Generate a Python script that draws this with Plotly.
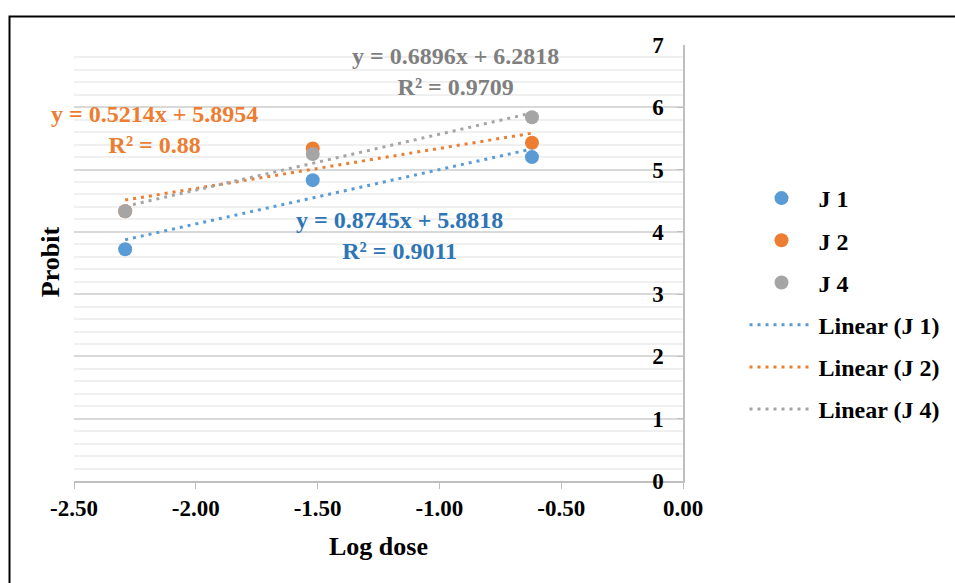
import numpy as np
import plotly.graph_objects as go

log_dose = [-2.29, -1.52, -0.62]
series_names = ["J 1", "J 2", "J 4"]
probit_j1 = [3.72, 4.83, 5.20]
probit_j2 = [4.33, 5.34, 5.43]
probit_j4 = [4.33, 5.25, 5.84]
equations = ["y = 0.8745x + 5.8818<br>R² = 0.9011",
             "y = 0.5214x + 5.8954<br>R² = 0.88",
             "y = 0.6896x + 6.2818<br>R² = 0.9709"]
x_tickvals = [-2.5, -2.0, -1.5, -1.0, -0.5, 0.0]
x_ticktext = ["-2.50", "-2.00", "-1.50", "-1.00", "-0.50", "0.00"]
y_tickvals = [0, 1, 2, 3, 4, 5, 6, 7]
y_ticktext = ["0", "1", "2", "3", "4", "5", "6", "7"]

marker_colors = ["#5B9BD5", "#ED7D31", "#A5A5A5"]
text_colors = ["#2E75B6", "#ED7D31", "#7F7F7F"]
FONT = "Liberation Serif"

fig = go.Figure()
all_y = [probit_j1, probit_j2, probit_j4]
for i, (name, ys) in enumerate(zip(series_names, all_y)):
    fig.add_trace(go.Scatter(x=log_dose, y=ys, mode="markers", name=name,
                             legendgroup="m%d" % i,
                             marker=dict(size=14, color=marker_colors[i])))
for i, (name, ys) in enumerate(zip(series_names, all_y)):
    k, b = np.polyfit(log_dose, ys, 1)
    xs = [min(log_dose), max(log_dose)]
    fig.add_trace(go.Scatter(x=xs, y=[k * v + b for v in xs], mode="lines",
                             name="Linear (%s)" % name, legendgroup="l%d" % i,
                             line=dict(color=marker_colors[i], width=3, dash="3px,5px")))

# equation labels (paper positions)
eq_pos = [(0.535, 0.564), (0.133, 0.807), (0.626, 0.940)]
for i, (ex, ey) in enumerate(eq_pos):
    fig.add_annotation(x=ex, y=ey, xref="paper", yref="paper",
                       text="<b>" + equations[i].replace("<br>", "</b><br><b>") + "</b>",
                       showarrow=False, align="center", xanchor="center", yanchor="middle",
                       font=dict(family=FONT, size=24, color=text_colors[i]))

fig.add_annotation(x=-0.0394, y=0.502, xref="paper", yref="paper", text="<b>Probit</b>",
                   textangle=-90, showarrow=False, xanchor="center", yanchor="middle",
                   font=dict(family=FONT, size=26, color="black"))

# chart frame
fig.add_shape(type="rect", xref="paper", yref="paper", x0=-0.1059, x1=1.6, y0=-0.4, y1=1.0654,
              line=dict(color="#000000", width=2), layer="below")

fig.update_layout(
    width=955, height=583,
    margin=dict(l=74, r=272, t=45, b=102, autoexpand=False),
    plot_bgcolor="white", paper_bgcolor="white",
    font=dict(family=FONT, color="black"),
    showlegend=True,
    legend=dict(x=1.101, y=0.406, xanchor="left", yanchor="middle",
                traceorder="grouped", tracegroupgap=8,
                font=dict(family=FONT, size=24, color="black", weight="bold"),
                itemwidth=64, bgcolor="rgba(0,0,0,0)"),
    xaxis=dict(range=[-2.5, 0], tickmode="array", tickvals=x_tickvals, ticktext=x_ticktext,
               showgrid=False, zeroline=False, showline=True, linecolor="#BFBFBF", linewidth=1.5,
               ticks="outside", ticklen=6, tickcolor="#BFBFBF", ticklabelstandoff=0,
               ticklabeloverflow="allow",
               tickfont=dict(family=FONT, size=23, color="black", weight="bold"),
               title=dict(text="<b>Log dose</b>", standoff=16,
                          font=dict(family=FONT, size=26, color="black"))),
    yaxis=dict(range=[0, 7], tickmode="array", tickvals=y_tickvals, ticktext=y_ticktext,
               side="right", ticklabelposition="inside", ticklabeloverflow="allow",
               showgrid=True, gridcolor="#D9D9D9", gridwidth=1.5, zeroline=False,
               showline=True, linecolor="#BFBFBF", linewidth=1.5,
               ticks="inside", ticklen=6, tickcolor="#BFBFBF", ticklabelstandoff=15,
               minor=dict(dtick=0.2, showgrid=True, gridcolor="#F0F0F0", gridwidth=1.5),
               tickfont=dict(family=FONT, size=23, color="black", weight="bold")),
)

fig.write_html("out.html")
